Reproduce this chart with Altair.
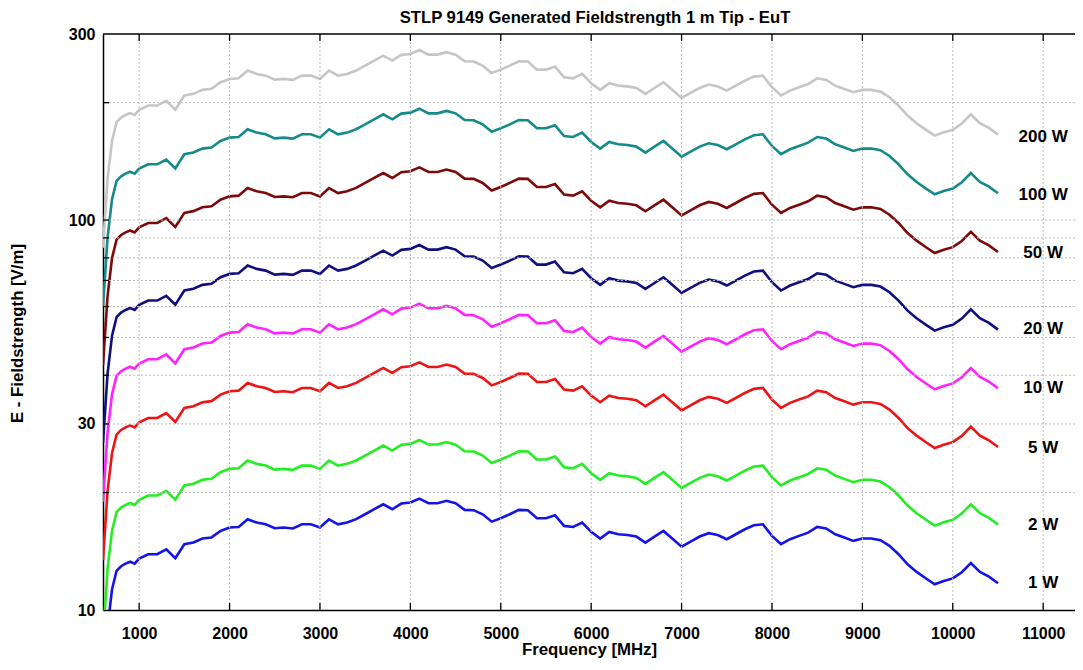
import altair as alt
import pandas as pd

# Frequencies [MHz]
freq = [600, 650, 700, 750, 800, 850, 900, 950, 1000, 1100,
        1200, 1300, 1400, 1500, 1600, 1700, 1800, 1900, 2000, 2100,
        2200, 2300, 2400, 2500, 2600, 2700, 2800, 2900, 3000, 3100,
        3200, 3300, 3400, 3500, 3600, 3700, 3800, 3900, 4000, 4100,
        4200, 4300, 4400, 4500, 4600, 4700, 4800, 4900, 5000, 5100,
        5200, 5300, 5400, 5500, 5600, 5700, 5800, 5900, 6000, 6100,
        6200, 6300, 6400, 6500, 6600, 6700, 6800, 6900, 7000, 7100,
        7200, 7300, 7400, 7500, 7600, 7700, 7800, 7900, 8000, 8100,
        8200, 8300, 8400, 8500, 8600, 8700, 8800, 8900, 9000, 9100,
        9200, 9300, 9400, 9500, 9600, 9700, 9800, 9900, 10000, 10100,
        10200, 10300, 10400, 10500]

e_1w = [6.0, 9.0, 11.3, 12.6, 12.95, 13.15, 13.3, 13.15, 13.55, 13.9,
        13.9, 14.3, 13.57, 14.75, 14.9, 15.25, 15.35, 15.95, 16.27, 16.33,
        17.09, 16.76, 16.59, 16.2, 16.27, 16.18, 16.59, 16.59, 16.27, 17.09,
        16.59, 16.76, 17.1, 17.6, 18.13, 18.67, 18.13, 18.75, 18.86, 19.3,
        18.78, 18.78, 19.05, 18.78, 18.06, 18.03, 17.6, 16.85, 17.19, 17.6,
        18.06, 18.03, 17.19, 17.19, 17.5, 16.43, 16.33, 16.76, 15.86, 15.25,
        15.86, 15.64, 15.57, 15.43, 14.89, 15.42, 15.95, 15.23, 14.54, 14.98,
        15.43, 15.74, 15.57, 15.19, 15.64, 16.11, 16.5, 16.59, 15.49, 14.75,
        15.19, 15.49, 15.79, 16.33, 16.18, 15.64, 15.34, 15.04, 15.25, 15.25,
        15.1, 14.6, 13.9, 13.1, 12.52, 12.06, 11.64, 11.87, 12.05, 12.5,
        13.2, 12.52, 12.18, 11.71]

e_2w = [8.49, 12.73, 15.98, 17.82, 18.31, 18.6, 18.81, 18.6, 19.16, 19.66,
        19.66, 20.22, 19.19, 20.86, 21.07, 21.57, 21.71, 22.56, 23.01, 23.09,
        24.17, 23.7, 23.46, 22.91, 23.01, 22.88, 23.46, 23.46, 23.01, 24.17,
        23.46, 23.7, 24.18, 24.89, 25.64, 26.4, 25.64, 26.52, 26.67, 27.29,
        26.56, 26.56, 26.94, 26.56, 25.54, 25.5, 24.89, 23.83, 24.31, 24.89,
        25.54, 25.5, 24.31, 24.31, 24.75, 23.24, 23.09, 23.7, 22.43, 21.57,
        22.43, 22.12, 22.02, 21.82, 21.06, 21.81, 22.56, 21.54, 20.56, 21.18,
        21.82, 22.26, 22.02, 21.48, 22.12, 22.78, 23.33, 23.46, 21.91, 20.86,
        21.48, 21.91, 22.33, 23.09, 22.88, 22.12, 21.69, 21.27, 21.57, 21.57,
        21.35, 20.65, 19.66, 18.53, 17.71, 17.06, 16.46, 16.79, 17.04, 17.68,
        18.67, 17.71, 17.23, 16.56]

e_5w = [13.42, 20.12, 25.27, 28.17, 28.96, 29.4, 29.74, 29.4, 30.3, 31.08,
        31.08, 31.98, 30.34, 32.98, 33.32, 34.1, 34.32, 35.67, 36.38, 36.52,
        38.22, 37.48, 37.1, 36.22, 36.38, 36.18, 37.1, 37.1, 36.38, 38.22,
        37.1, 37.48, 38.24, 39.36, 40.54, 41.75, 40.54, 41.93, 42.17, 43.16,
        41.99, 41.99, 42.6, 41.99, 40.38, 40.32, 39.36, 37.68, 38.44, 39.36,
        40.38, 40.32, 38.44, 38.44, 39.13, 36.74, 36.52, 37.48, 35.46, 34.1,
        35.46, 34.97, 34.82, 34.5, 33.3, 34.48, 35.67, 34.06, 32.51, 33.5,
        34.5, 35.2, 34.82, 33.97, 34.97, 36.02, 36.9, 37.1, 34.64, 32.98,
        33.97, 34.64, 35.31, 36.52, 36.18, 34.97, 34.3, 33.63, 34.1, 34.1,
        33.77, 32.65, 31.08, 29.29, 28.0, 26.97, 26.03, 26.54, 26.94, 27.95,
        29.52, 28.0, 27.24, 26.18]

e_10w = [18.97, 28.46, 35.73, 39.84, 40.95, 41.58, 42.06, 41.58, 42.85, 43.96,
         43.96, 45.22, 42.91, 46.64, 47.12, 48.22, 48.54, 50.44, 51.45, 51.64,
         54.04, 53.0, 52.46, 51.23, 51.45, 51.17, 52.46, 52.46, 51.45, 54.04,
         52.46, 53.0, 54.08, 55.66, 57.33, 59.04, 57.33, 59.29, 59.64, 61.03,
         59.39, 59.39, 60.24, 59.39, 57.11, 57.02, 55.66, 53.28, 54.36, 55.66,
         57.11, 57.02, 54.36, 54.36, 55.34, 51.96, 51.64, 53.0, 50.15, 48.22,
         50.15, 49.46, 49.24, 48.79, 47.09, 48.76, 50.44, 48.16, 45.98, 47.37,
         48.79, 49.77, 49.24, 48.04, 49.46, 50.94, 52.18, 52.46, 48.98, 46.64,
         48.04, 48.98, 49.93, 51.64, 51.17, 49.46, 48.51, 47.56, 48.22, 48.22,
         47.75, 46.17, 43.96, 41.43, 39.59, 38.14, 36.81, 37.54, 38.11, 39.53,
         41.74, 39.59, 38.52, 37.03]

e_20w = [26.83, 40.25, 50.53, 56.35, 57.91, 58.81, 59.48, 58.81, 60.6, 62.16,
         62.16, 63.95, 60.69, 65.96, 66.63, 68.2, 68.65, 71.33, 72.76, 73.03,
         76.43, 74.95, 74.19, 72.45, 72.76, 72.36, 74.19, 74.19, 72.76, 76.43,
         74.19, 74.95, 76.47, 78.71, 81.08, 83.49, 81.08, 83.85, 84.34, 86.31,
         83.99, 83.99, 85.19, 83.99, 80.77, 80.63, 78.71, 75.35, 76.88, 78.71,
         80.77, 80.63, 76.88, 76.88, 78.26, 73.48, 73.03, 74.95, 70.93, 68.2,
         70.93, 69.94, 69.63, 69.0, 66.59, 68.96, 71.33, 68.11, 65.02, 66.99,
         69.0, 70.39, 69.63, 67.93, 69.94, 72.05, 73.79, 74.19, 69.27, 65.96,
         67.93, 69.27, 70.61, 73.03, 72.36, 69.94, 68.6, 67.26, 68.2, 68.2,
         67.53, 65.29, 62.16, 58.58, 55.99, 53.93, 52.05, 53.08, 53.89, 55.9,
         59.03, 55.99, 54.47, 52.37]

e_50w = [42.43, 63.64, 79.9, 89.1, 91.57, 92.99, 94.05, 92.99, 95.81, 98.29,
         98.29, 101.1, 95.95, 104.3, 105.4, 107.8, 108.5, 112.8, 115.0, 115.5,
         120.8, 118.5, 117.3, 114.6, 115.0, 114.4, 117.3, 117.3, 115.0, 120.8,
         117.3, 118.5, 120.9, 124.5, 128.2, 132.0, 128.2, 132.6, 133.4, 136.5,
         132.8, 132.8, 134.7, 132.8, 127.7, 127.5, 124.5, 119.1, 121.6, 124.5,
         127.7, 127.5, 121.6, 121.6, 123.7, 116.2, 115.5, 118.5, 112.1, 107.8,
         112.1, 110.6, 110.1, 109.1, 105.3, 109.0, 112.8, 107.7, 102.8, 105.9,
         109.1, 111.3, 110.1, 107.4, 110.6, 113.9, 116.7, 117.3, 109.5, 104.3,
         107.4, 109.5, 111.7, 115.5, 114.4, 110.6, 108.5, 106.3, 107.8, 107.8,
         106.8, 103.2, 98.29, 92.63, 88.53, 85.28, 82.31, 83.93, 85.21, 88.39,
         93.34, 88.53, 86.13, 82.8]

e_100w = [60.0, 90.0, 113.0, 126.0, 129.5, 131.5, 133.0, 131.5, 135.5, 139.0,
          139.0, 143.0, 135.7, 147.5, 149.0, 152.5, 153.5, 159.5, 162.7, 163.3,
          170.9, 167.6, 165.9, 162.0, 162.7, 161.8, 165.9, 165.9, 162.7, 170.9,
          165.9, 167.6, 171.0, 176.0, 181.3, 186.7, 181.3, 187.5, 188.6, 193.0,
          187.8, 187.8, 190.5, 187.8, 180.6, 180.3, 176.0, 168.5, 171.9, 176.0,
          180.6, 180.3, 171.9, 171.9, 175.0, 164.3, 163.3, 167.6, 158.6, 152.5,
          158.6, 156.4, 155.7, 154.3, 148.9, 154.2, 159.5, 152.3, 145.4, 149.8,
          154.3, 157.4, 155.7, 151.9, 156.4, 161.1, 165.0, 165.9, 154.9, 147.5,
          151.9, 154.9, 157.9, 163.3, 161.8, 156.4, 153.4, 150.4, 152.5, 152.5,
          151.0, 146.0, 139.0, 131.0, 125.2, 120.6, 116.4, 118.7, 120.5, 125.0,
          132.0, 125.2, 121.8, 117.1]

e_200w = [84.9, 127.3, 159.8, 178.2, 183.1, 186.0, 188.1, 186.0, 191.6, 196.6,
          196.6, 202.2, 191.9, 208.6, 210.7, 215.7, 217.1, 225.6, 230.1, 230.9,
          241.7, 237.0, 234.6, 229.1, 230.1, 228.8, 234.6, 234.6, 230.1, 241.7,
          234.6, 237.0, 241.8, 248.9, 256.4, 264.0, 256.4, 265.2, 266.7, 272.9,
          265.6, 265.6, 269.4, 265.6, 255.4, 255.0, 248.9, 238.3, 243.1, 248.9,
          255.4, 255.0, 243.1, 243.1, 247.5, 232.4, 230.9, 237.0, 224.3, 215.7,
          224.3, 221.2, 220.2, 218.2, 210.6, 218.1, 225.6, 215.4, 205.6, 211.8,
          218.2, 222.6, 220.2, 214.8, 221.2, 227.8, 233.3, 234.6, 219.1, 208.6,
          214.8, 219.1, 223.3, 230.9, 228.8, 221.2, 216.9, 212.7, 215.7, 215.7,
          213.5, 206.5, 196.6, 185.3, 177.1, 170.6, 164.6, 167.9, 170.4, 176.8,
          186.7, 177.1, 172.3, 165.6]

series_names = ["1 W", "2 W", "5 W", "10 W", "20 W", "50 W", "100 W", "200 W"]
series_colors = ["#1414e8", "#22ee22", "#ee1414", "#ff22ff",
                 "#10107f", "#7d0a0a", "#158a8a", "#c6c6c6"]
series_values = [e_1w, e_2w, e_5w, e_10w, e_20w, e_50w, e_100w, e_200w]

label_freq = [11000, 11000, 11000, 11000, 11000, 11000, 11000, 11000]
label_values = [11.7, 16.5, 26.1, 37.0, 52.5, 82.2, 116.1, 163.7]

chart_title = "STLP 9149 Generated Fieldstrength 1 m Tip - EuT"
x_ticks = [1000, 2000, 3000, 4000, 5000, 6000, 7000, 8000, 9000, 10000, 11000]
y_labels = [10, 30, 100, 300]
y_grid = [20, 30, 40, 50, 60, 70, 80, 90, 100, 200]

rows = []
for name, vals in zip(series_names, series_values):
    for f, v in zip(freq, vals):
        rows.append({"freq": f, "E": v, "series": name})
df = pd.DataFrame(rows)

FONT = "Liberation Sans"
W, H = 972, 576

xs = alt.Scale(domain=[600, 11352], nice=False, zero=False)
ys = alt.Scale(type="log", domain=[10, 300], nice=False)

x_axis = alt.Axis(values=x_ticks, format="d", grid=False, ticks=False,
                  domainColor="black", domainWidth=1.5,
                  labelFont=FONT, labelFontSize=16, labelFontWeight="bold",
                  labelColor="black", labelPadding=15, labelFlush=False,
                  labelOverlap=False,
                  title="Frequency [MHz]", titleFont=FONT, titleFontSize=16.8,
                  titleFontWeight="bold", titleColor="black", titlePadding=0)
y_axis = alt.Axis(values=y_labels, format="d", grid=False, ticks=False,
                  domainColor="black", domainWidth=1.5,
                  labelFont=FONT, labelFontSize=16, labelFontWeight="bold",
                  labelColor="black", labelPadding=8, labelOverlap=False,
                  title="E - Fieldstrength [V/m]", titleFont=FONT,
                  titleFontSize=16.8, titleFontWeight="bold", titleColor="black",
                  titlePadding=42, titleY=299)

X = alt.X("freq:Q", scale=xs, axis=x_axis)
Y = alt.Y("E:Q", scale=ys, axis=y_axis)

xgrid_df = pd.DataFrame({"freq": x_ticks})
ygrid_df = pd.DataFrame({"E": y_grid})
title_df = pd.DataFrame({"t": [chart_title]})

lines = alt.Chart(df).mark_line(strokeWidth=2.6, clip=True).encode(
    x=X, y=Y,
    color=alt.Color("series:N",
                    scale=alt.Scale(domain=series_names, range=series_colors),
                    legend=None),
    detail="series:N",
)

xgrid = alt.Chart(xgrid_df).mark_rule(color="#bcbcbc", strokeDash=[2, 2], strokeWidth=1).encode(x=X)
ygrid = alt.Chart(ygrid_df).mark_rule(color="#bcbcbc", strokeDash=[2, 2], strokeWidth=1).encode(y=Y)

frame_top = alt.Chart(title_df).mark_rule(color="black", strokeWidth=1.5).encode(
    x=alt.value(0), x2=alt.value(W), y=alt.value(0))

tick_bottom = alt.Chart(xgrid_df).mark_rule(color="black", strokeWidth=1.3).encode(
    x=X, y=alt.value(H - 7), y2=alt.value(H))
tick_top = alt.Chart(xgrid_df).mark_rule(color="black", strokeWidth=1.3).encode(
    x=X, y=alt.value(0), y2=alt.value(7))
tick_left = alt.Chart(ygrid_df).mark_rule(color="black", strokeWidth=1.3).encode(
    y=Y, x=alt.value(0), x2=alt.value(6))

labels_df = pd.DataFrame({"freq": label_freq, "E": label_values, "label": series_names})
labels = alt.Chart(labels_df).mark_text(
    font=FONT, fontSize=17, fontWeight="bold", color="black",
    align="center", baseline="middle").encode(
    x=X, y=Y, text="label:N")

title = alt.Chart(title_df).mark_text(
    font=FONT, fontSize=16.7, fontWeight="bold", color="black",
    align="center", baseline="alphabetic").encode(
    x=alt.value(492), y=alt.value(-11), text="t:N")

chart = alt.layer(
    lines, xgrid, ygrid, frame_top, tick_bottom, tick_top, tick_left, labels, title
).properties(
    width=W, height=H,
    padding={"left": 95, "top": 26, "right": 0, "bottom": 48},
    autosize=alt.AutoSizeParams(type="none"),
).configure_view(stroke=None)

chart.save("out.html", embed_options={"renderer": "svg", "actions": False})
